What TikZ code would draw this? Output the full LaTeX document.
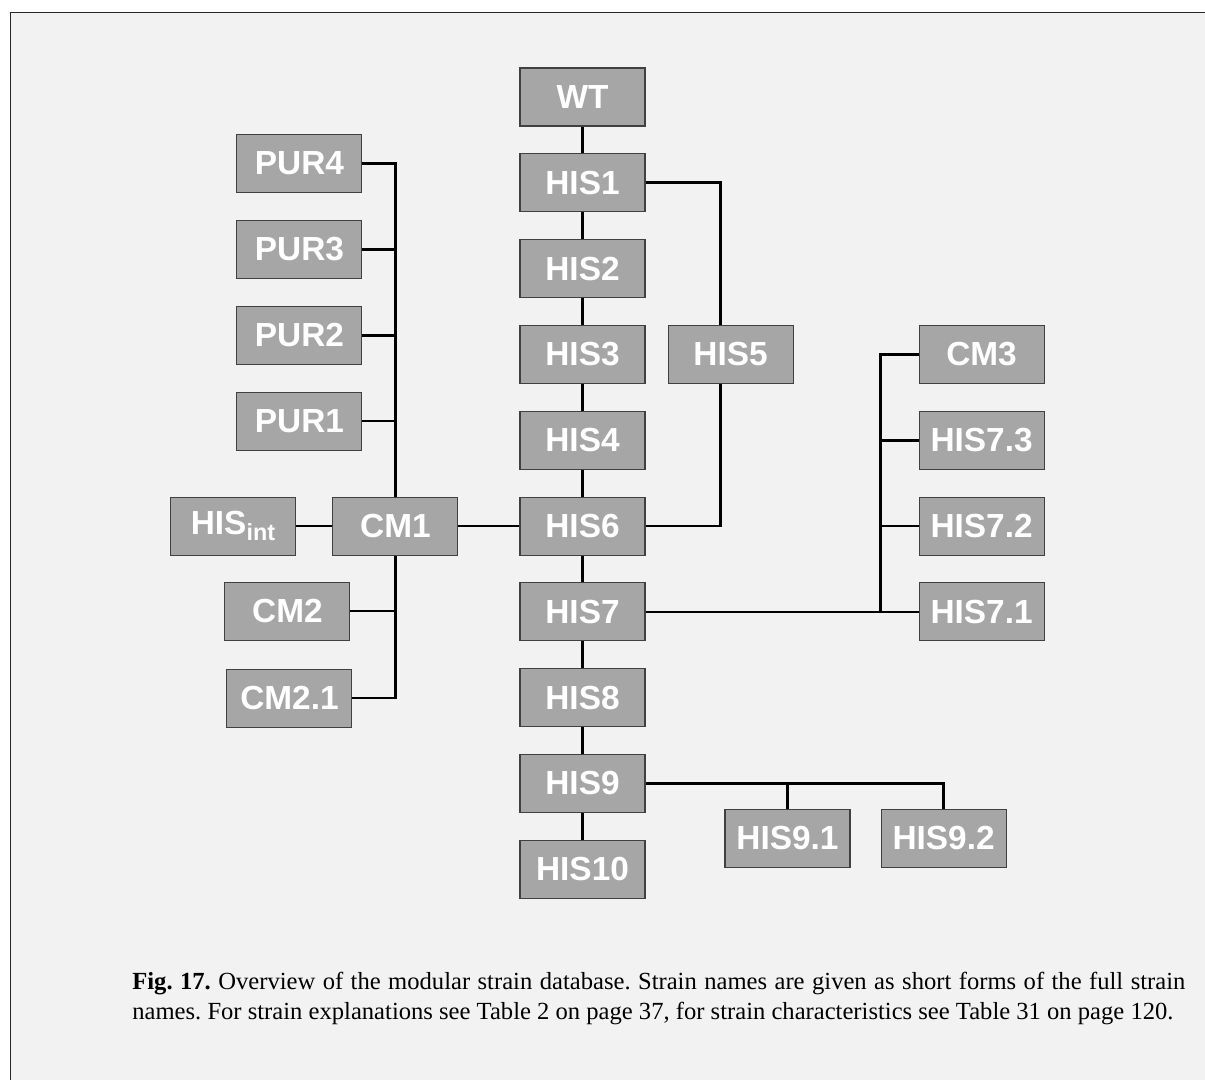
\documentclass[tikz,border=0pt]{standalone}
\usepackage{fontspec}
\setmainfont{Liberation Serif}
\setsansfont{Liberation Sans}
\usetikzlibrary{positioning, calc, backgrounds}
\usepackage{xcolor}
\definecolor{boxgray}{HTML}{A6A6A6}
\definecolor{panel}{HTML}{F2F2F2}

\begin{document}
\begin{tikzpicture}[
    node distance=0.535cm,
    strain/.style={draw=black!75, line width=0.6pt, fill=boxgray, minimum width=2.5cm, minimum height=1.16cm, inner sep=0pt, text=white, font=\sffamily\bfseries\fontsize{19}{22}\selectfont},
    line/.style={draw, line width=1.5pt}
]
\useasboundingbox (0,0) rectangle (24.1,-21.58);

% Nodes
\node[strain] (wt) at (11.65,-1.94) {WT};
\node[strain, below=of wt] (his1) {HIS1};
\node[strain, below=of his1] (his2) {HIS2};
\node[strain, below=of his2] (his3) {HIS3};
\node[strain, below=of his3] (his4) {HIS4};
\node[strain, below=of his4] (his6) {HIS6};
\node[strain, below=of his6] (his7) {HIS7};
\node[strain, below=of his7] (his8) {HIS8};
\node[strain, below=of his8] (his9) {HIS9};
\node[strain, below=of his9] (his10) {HIS10};
\node[strain, right=0.44cm of his3] (his5) {HIS5};

\node[strain, left=1.22cm of his6] (cm1) {CM1};
\node[strain, left=0.72cm of cm1] (hisint) {HIS\textsubscript{int}};
\node[strain] (cm2) at ($(cm1)+(-2.16,-1.7)$) {CM2};
\node[strain] (cm21) at ($(cm1)+(-2.12,-3.44)$) {CM2.1};
\node[strain] (pur1) at ($(cm1)+(-1.92,2.1)$) {PUR1};
\node[strain, above=of pur1] (pur2) {PUR2};
\node[strain, above=of pur2] (pur3) {PUR3};
\node[strain, above=of pur3] (pur4) {PUR4};

\node[strain, right=5.46cm of his7] (his71) {HIS7.1};
\node[strain, above=of his71] (his72) {HIS7.2};
\node[strain, above=of his72] (his73) {HIS7.3};
\node[strain, above=of his73] (cm3) {CM3};

\node[strain] (his91) at ($(his9)+(4.1,-1.1)$) {HIS9.1};
\node[strain, right=0.6cm of his91] (his92) {HIS9.2};

% Caption
\node[anchor=north west, inner sep=0pt, text width=21.06cm, align=justify, font=\fontsize{14}{17}\selectfont\frenchspacing] (caption) at (2.64,-19.43)
  {\textbf{Fig. 17.} Overview of the modular strain database. Strain names are given as short forms of the full strain names. For strain explanations see Table 2 on page 37, for strain characteristics see Table 31 on page 120.};

% Edges
\begin{scope}[on background layer]
\fill[panel, draw=black!85, line width=0.85pt] (0.21,-0.25) rectangle (24.6,-22.0);
\foreach \a/\b in {wt/his1, his1/his2, his2/his3, his3/his4, his4/his6, his6/his7, his7/his8, his8/his9, his9/his10}
  \draw[line] (\a) -- (\b);
\draw[line] (his1.east) -- ++(1.5,0) |- (his6.east);
\draw[line] (hisint) -- (cm1);
\draw[line] (cm1) -- (his6);
\draw[line] (pur4.east) -| (cm1.north);
\foreach \p in {pur3, pur2, pur1}
  \draw[line] (\p.east) -- (\p.east -| cm1);
\draw[line] (cm1.south) |- (cm21.east);
\draw[line] (cm2.east) -- (cm2.east -| cm1);
\draw[line] (his7.east) -- (his71.west);
\draw[line] (cm3.west) -- ++(-0.76,0) |- (his71.west);
\foreach \p in {his72, his73}
  \draw[line] (\p.west) -- ++(-0.76,0);
\draw[line] (his9.east) -| (his92.north);
\draw[line] (his91.north) -- (his91.north |- his9.east);
\end{scope}

\end{tikzpicture}
\end{document}
